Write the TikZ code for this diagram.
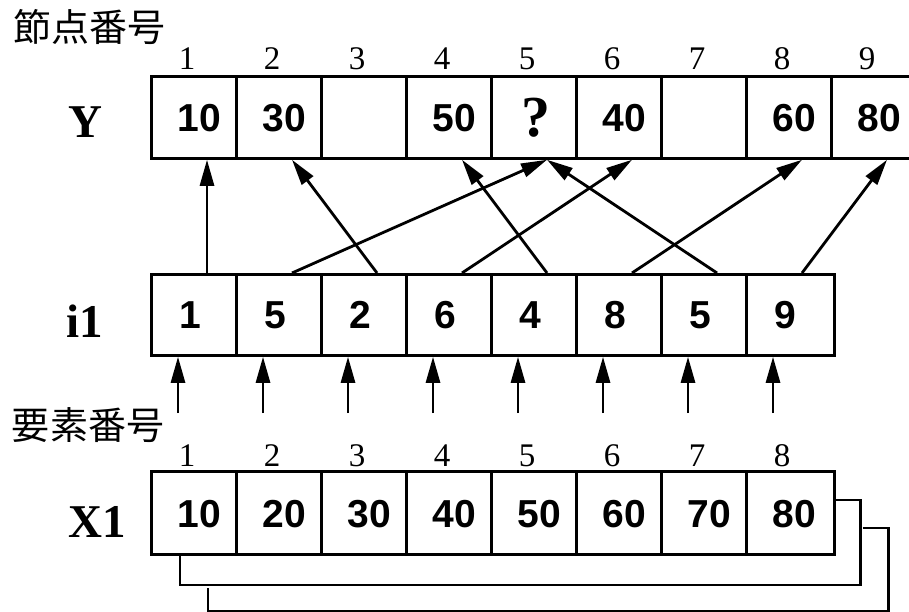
\documentclass[tikz,border=0pt]{standalone}
\usepackage{fontspec}
\setmainfont{Liberation Serif}
\setsansfont{Liberation Sans}
\newfontfamily\cjkfont{Noto Sans CJK JP}
\usetikzlibrary{arrows.meta}
\begin{document}
\begin{tikzpicture}[x=1pt,y=-1pt,
  cell/.style={draw, line width=2.8pt, minimum width=85pt, inner sep=0pt, anchor=north west},
  val/.style={font=\sffamily\bfseries\fontsize{39}{40}\selectfont, inner sep=0pt, anchor=base east},
  cval/.style={font=\sffamily\bfseries\fontsize{39}{40}\selectfont, inner sep=0pt, anchor=base},
  idx/.style={font=\fontsize{33}{34}\selectfont, inner sep=0pt, anchor=base},
  lab/.style={font=\bfseries\fontsize{47}{48}\selectfont, inner sep=0pt, anchor=base},
  cjk/.style={font=\cjkfont\fontsize{38}{40}\selectfont, inner sep=0pt, anchor=base},
  arr/.style={line width=2.8pt, -{Triangle[length=26pt,width=14pt]}},
  conn/.style={line width=2.8pt}]
\useasboundingbox (0,0) rectangle (909,612);
\clip (0,0) rectangle (909,612);
\fill[white] (0,0) rectangle (909,612);

% labels
\node[cjk] (lnode) at (89,42) {節点番号};
\node[cjk] (lelem) at (88,439) {要素番号};
\node[lab] (lY) at (85,138) {Y};
\node[lab] (li1) at (85,337) {i1};
\node[lab] (lX1) at (97,537) {X1};

% Y row
\foreach \k in {1,...,9} {
  \node[cell, minimum height=82pt] (y\k) at ({150+85*(\k-1)},75) {};
  \node[idx] (yn\k) at ({187+85*(\k-1)},70) {\k};
}
\foreach \k/\v in {1/10,2/30,4/50,6/40,8/60,9/80} {
  \node[val] (yv\k) at ({150+85*\k-14},132) {\v};
}
\node[lab, font=\bfseries\fontsize{58}{60}\selectfont] (yq) at (536,137) {?};

% i1 row
\foreach \k in {1,...,7} {
  \node[cell, minimum height=81pt] (i\k) at ({150+85*(\k-1)},273) {};
}
\node[cell, minimum height=81pt, minimum width=88pt] (i8) at (745,273) {};
\foreach \k/\v in {1/1,2/5,3/2,4/6,5/4,6/8,7/5,8/9} {
  \node[cval] (iv\k) at ({190+85*(\k-1)},328) {\v};
}

% X1 row
\foreach \k in {1,...,7} {
  \node[cell, minimum height=83pt] (x\k) at ({150+85*(\k-1)},470) {};
}
\node[cell, minimum height=83pt, minimum width=88pt] (x8) at (745,470) {};
\foreach \k in {1,...,8} {
  \node[idx] (xn\k) at ({187+85*(\k-1)},466) {\k};
  \node[val] (xv\k) at ({150+85*\k-14},527) {\the\numexpr\k*10\relax};
}

% arrows i1 -> Y
\foreach \a/\b in {1/1,2/5,3/2,4/6,5/4,6/8,7/5,8/9} {
  \draw[arr] ([xshift=57pt]i\a.north west) -- ([xshift=57pt]y\b.south west);
}

% arrows from element numbers to i1
\foreach \k in {1,...,8} {
  \coordinate (s\k) at ({178+85*(\k-1)},413);
  \draw[arr] (s\k) -- ([xshift=28pt]i\k.south west);
}

% loop brackets under X1
\draw[conn] ([yshift=13pt]x8.east) -- ++(25,0) -- ++(0,85) -| ([xshift=30pt]x1.south west);
\draw[conn] ([shift={(27,15)}]x8.east) -- ++(26,0) -- ++(0,83) -| ([shift={(58,32)}]x1.south west);
\end{tikzpicture}
\end{document}
